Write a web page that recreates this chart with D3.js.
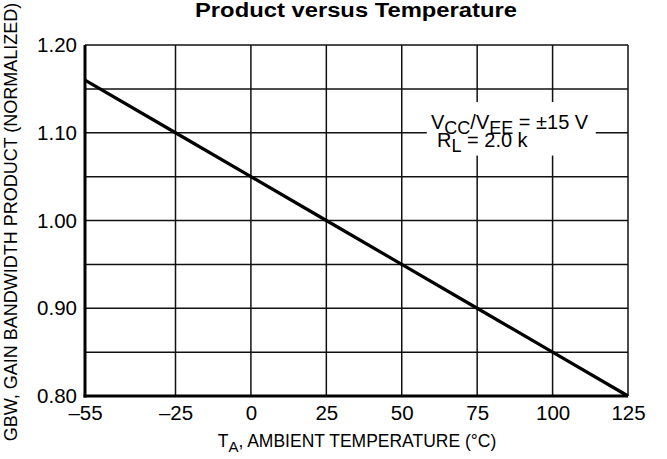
<!DOCTYPE html>
<html>
<head>
<meta charset="utf-8">
<script src="https://cdn.jsdelivr.net/npm/d3@7"></script>
<style>
  body { margin: 0; background: #fff; }
  svg { display: block; font-family: "Liberation Sans Narrow", "Liberation Sans", Arial, sans-serif; }
</style>
</head>
<body>
<script>
"use strict"

// Data
const temps      = [-55, -25, 0, 25, 50, 75, 100, 125]
const gbw        = [1.16, 1.10, 1.05, 1.00, 0.95, 0.90, 0.85, 0.80]
const xTicks     = [-55, -25, 0, 25, 50, 75, 100, 125]
const yTicks     = [0.80, 0.90, 1.00, 1.10, 1.20]
const yGrid      = [0.80, 0.85, 0.90, 0.95, 1.00, 1.05, 1.10, 1.15, 1.20]

const width  = 667
const height = 459
const margin = { top : 45, right : 39, bottom : 63, left : 85 }
const narrow = "Liberation Sans Narrow, Liberation Sans, Arial, sans-serif"

const x = d3.scaleLinear().domain([-55, 125]).range([margin.left, width - margin.right])
const y = d3.scaleLinear().domain([0.80, 1.20]).range([height - margin.bottom, margin.top])

const root = d3.select("body").append("svg")
  .attr("width", width)
  .attr("height", height)

// grid
const grid = root.append("g").attr("class", "grid")
grid.selectAll(".vgrid").data(xTicks).enter().append("line")
  .attr("class", "vgrid")
  .attr("x1", d => x(d)).attr("x2", d => x(d))
  .attr("y1", y(1.20)).attr("y2", y(0.80))
  .attr("stroke", "#111").attr("stroke-width", 1.5)
grid.selectAll(".hgrid").data(yGrid).enter().append("line")
  .attr("class", "hgrid")
  .attr("x1", x(-55)).attr("x2", x(125))
  .attr("y1", d => y(d)).attr("y2", d => y(d))
  .attr("stroke", "#111").attr("stroke-width", 1.5)

// white box behind the annotation
root.append("rect")
  .attr("x", x(58.3)).attr("y", y(1.135))
  .attr("width", x(114.3) - x(58.3)).attr("height", y(1.074) - y(1.135))
  .attr("fill", "#fff")

// frame: heavy left and bottom axis lines
root.append("line")
  .attr("x1", x(-55)).attr("x2", x(-55)).attr("y1", y(1.20)).attr("y2", y(0.80) + 1.5)
  .attr("stroke", "#000").attr("stroke-width", 3)
root.append("line")
  .attr("x1", x(-55) - 1.5).attr("x2", x(125)).attr("y1", y(0.80)).attr("y2", y(0.80))
  .attr("stroke", "#000").attr("stroke-width", 3)

// data line
const line = d3.line().x(d => x(d[0])).y(d => y(d[1]))
root.append("path")
  .datum(d3.zip(temps, gbw))
  .attr("d", line)
  .attr("fill", "none")
  .attr("stroke", "#000")
  .attr("stroke-width", 3.2)

// axes (labels only)
const xAxis = root.append("g")
  .attr("transform", `translate(0 ${y(0.80)})`)
  .call(d3.axisBottom(x).tickValues(xTicks).tickSize(0).tickPadding(9.5)
    .tickFormat(d => d < 0 ? "\u2013" + Math.abs(d) : d))
xAxis.select(".domain").remove()
xAxis.selectAll("text").attr("font-size", 20.5).attr("fill", "#000")
  .attr("font-family", narrow)

const yAxis = root.append("g")
  .attr("transform", `translate(${x(-55)} 0)`)
  .call(d3.axisLeft(y).tickValues(yTicks).tickSize(0).tickPadding(8)
    .tickFormat(d3.format(".2f")))
yAxis.select(".domain").remove()
yAxis.selectAll("text").attr("font-size", 20.5).attr("fill", "#000")
  .attr("font-family", narrow)

// title
root.append("text")
  .attr("x", 356).attr("y", 17)
  .attr("text-anchor", "middle")
  .attr("font-family", "Liberation Sans, Arial, sans-serif")
  .attr("font-size", 20).attr("font-weight", "bold")
  .attr("textLength", 322).attr("lengthAdjust", "spacingAndGlyphs")
  .text("Product versus Temperature")

// x axis title
const xt = root.append("text")
  .attr("x", 357).attr("y", 447)
  .attr("text-anchor", "middle")
  .attr("font-size", 17.5)
  .attr("font-family", narrow)
xt.append("tspan").text("T")
xt.append("tspan").attr("dy", 5).attr("font-size", 15).text("A")
xt.append("tspan").attr("dy", -5).text(", AMBIENT TEMPERATURE (\u00B0C)")

// y axis title
root.append("text")
  .attr("transform", "translate(17 222) rotate(-90)")
  .attr("text-anchor", "middle")
  .attr("font-size", 18)
  .attr("font-family", narrow)
  .text("GBW, GAIN BANDWIDTH PRODUCT (NORMALIZED)")

// annotation
const a1 = root.append("text").attr("x", 431).attr("y", 129).attr("font-size", 20)
  .attr("font-family", narrow)
a1.append("tspan").text("V")
a1.append("tspan").attr("dy", 5).attr("font-size", 18).text("CC")
a1.append("tspan").attr("dy", -5).text("/V")
a1.append("tspan").attr("dy", 5).attr("font-size", 18).text("EE")
a1.append("tspan").attr("dy", -5).text(" = \u00B115 V")

const a2 = root.append("text").attr("x", 437).attr("y", 147).attr("font-size", 20)
  .attr("font-family", narrow)
a2.append("tspan").text("R")
a2.append("tspan").attr("dy", 5).attr("font-size", 18).text("L")
a2.append("tspan").attr("dy", -5).text(" = 2.0 k")
</script>
</body>
</html>
